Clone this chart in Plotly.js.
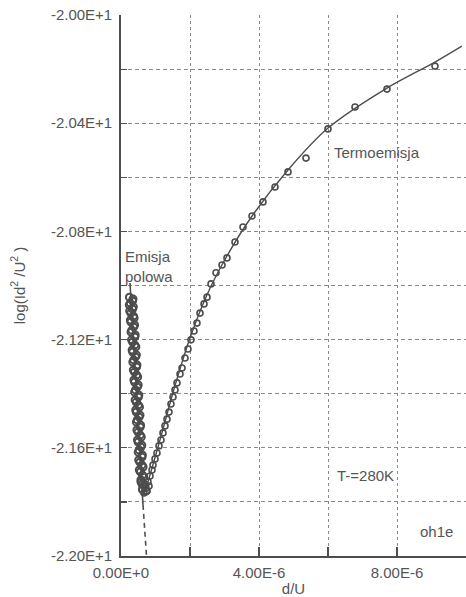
<!DOCTYPE html>
<html>
<head>
<meta charset="utf-8">
<script src="https://cdn.plot.ly/plotly-3.0.1.min.js"></script>
<style>
  html, body { margin: 0; padding: 0; background: #ffffff; }
  #chart { width: 466px; height: 597px; }
</style>
</head>
<body>
<div id="chart"></div>
<script>
// d/U values are listed in units of 1E-6 and scaled once below.
const MICRO = 1e-6;

// Field-emission branch (dense measured points)
const fieldX = [0.243, 0.336, 0.241, 0.336, 0.284, 0.380, 0.287, 0.368, 0.290, 0.400,
                0.336, 0.432, 0.339, 0.420, 0.342, 0.452, 0.388, 0.484, 0.391, 0.472,
                0.394, 0.504, 0.441, 0.536, 0.443, 0.525, 0.446, 0.557, 0.493, 0.588,
                0.496, 0.577, 0.499, 0.609, 0.545, 0.641, 0.562, 0.658, 0.580, 0.675,
                0.623, 0.725,
                0.348, 0.267, 0.359, 0.252, 0.362, 0.270, 0.394, 0.316, 0.412, 0.304,
                0.400, 0.322, 0.446, 0.368, 0.464, 0.357, 0.452, 0.374, 0.499, 0.420,
                0.516, 0.409, 0.504, 0.426, 0.551, 0.472, 0.568, 0.461, 0.557, 0.478,
                0.603, 0.525, 0.620, 0.513, 0.609, 0.530, 0.626, 0.577, 0.609];
const fieldY = [-21.043, -21.057, -21.072, -21.087, -21.102, -21.120, -21.135, -21.153, -21.172, -21.190,
                -21.209, -21.227, -21.246, -21.264, -21.283, -21.301, -21.320, -21.338, -21.357, -21.375,
                -21.394, -21.412, -21.431, -21.449, -21.468, -21.486, -21.505, -21.523, -21.542, -21.560,
                -21.579, -21.597, -21.616, -21.634, -21.653, -21.671, -21.689, -21.708, -21.726, -21.741,
                -21.752, -21.760,
                -21.050, -21.065, -21.079, -21.094, -21.113, -21.128, -21.146, -21.165, -21.183, -21.201,
                -21.220, -21.238, -21.257, -21.275, -21.294, -21.312, -21.331, -21.349, -21.368, -21.386,
                -21.405, -21.423, -21.442, -21.460, -21.479, -21.497, -21.516, -21.534, -21.553, -21.571,
                -21.590, -21.608, -21.627, -21.645, -21.664, -21.682, -21.701, -21.719, -21.734];

// Thermionic-emission branch (measured points)
const thermoX = [0.609, 0.667, 0.754, 0.812, 0.696,
                 0.725, 0.783, 0.841, 0.899, 0.928, 0.986, 1.043, 1.101, 1.159, 1.217,
                 1.275, 1.333, 1.391, 1.449, 1.507, 1.565, 1.623, 1.710, 1.768, 1.855,
                 1.942, 2.029, 2.116, 2.203, 2.290, 2.406, 2.493, 2.609, 2.754, 2.928,
                 3.072, 3.304, 3.536, 3.797, 4.116, 4.464, 4.841, 5.362, 6.000, 6.783,
                 7.710, 9.101];
const thermoY = [-21.756, -21.767, -21.760, -21.741, -21.734,
                 -21.749, -21.726, -21.704, -21.682, -21.664, -21.641, -21.619, -21.593, -21.571, -21.545,
                 -21.519, -21.494, -21.468, -21.438, -21.412, -21.386, -21.360, -21.327, -21.305, -21.268,
                 -21.235, -21.201, -21.168, -21.139, -21.102, -21.068, -21.043, -20.994, -20.953, -20.924,
                 -20.898, -20.839, -20.784, -20.743, -20.691, -20.636, -20.580, -20.529, -20.421, -20.340,
                 -20.274, -20.189];

// Fitted curves
const fieldFitX = [0.261, 0.638];
const fieldFitY = [-20.991, -21.811];
const fieldExtX = [0.638, 0.739];
const fieldExtY = [-21.811, -22.000];
const thermoFitX = [0.64, 0.75, 1.13, 1.57, 2.00, 2.49, 3.07, 3.80, 4.84, 6.00, 7.71, 9.10, 9.88];
const thermoFitY = [-21.774, -21.738, -21.571, -21.368, -21.194, -21.035, -20.891, -20.743,
                    -20.573, -20.418, -20.270, -20.174, -20.115];

// Axis ticks
const xTickVals = [0, 2, 4, 6, 8, 10];
const xTickText = ['0.00E+0', '', '4.00E-6', '', '8.00E-6', ''];
const yTickVals = [-22.0, -21.8, -21.6, -21.4, -21.2, -21.0, -20.8, -20.6, -20.4, -20.2, -20.0];
const yTickText = ['-2.20E+1', '', '-2.16E+1', '', '-2.12E+1', '', '-2.08E+1', '', '-2.04E+1', '', '-2.00E+1'];

const ink = '#4d4d4d';
const textInk = '#555555';
const gridInk = '#8a8a8a';
const scale = a => a.map(v => v * MICRO);

const fieldMarker = {
  symbol: 'circle-open', size: 7, color: ink, line: { width: 2, color: ink }
};
const thermoMarker = {
  symbol: 'circle-open', size: 6, color: ink, line: { width: 1.6, color: ink }
};

const traces = [
  { x: scale(fieldX), y: fieldY, mode: 'markers', type: 'scatter', marker: fieldMarker, hoverinfo: 'skip' },
  { x: scale(thermoX), y: thermoY, mode: 'markers', type: 'scatter', marker: thermoMarker, hoverinfo: 'skip' },
  { x: scale(fieldFitX), y: fieldFitY, mode: 'lines', type: 'scatter',
    line: { color: ink, width: 1.6 }, hoverinfo: 'skip' },
  { x: scale(fieldExtX), y: fieldExtY, mode: 'lines', type: 'scatter',
    line: { color: ink, width: 1.6, dash: '5px,4px' }, hoverinfo: 'skip' },
  { x: scale(thermoFitX), y: thermoFitY, mode: 'lines', type: 'scatter',
    line: { color: ink, width: 1.4, shape: 'spline', smoothing: 0.8 }, hoverinfo: 'skip' }
];

const font = { family: '"Liberation Sans", Arial, sans-serif', size: 15, color: textInk };

const layout = {
  width: 466, height: 597,
  margin: { l: 121, r: 0, t: 15, b: 41 },
  paper_bgcolor: '#ffffff', plot_bgcolor: '#ffffff',
  showlegend: false,
  font: font,
  xaxis: {
    range: [0, 10 * MICRO],
    tickvals: scale(xTickVals), ticktext: xTickText,
    ticks: 'inside', ticklen: 9, tickwidth: 1.2, tickcolor: ink,
    showline: true, linecolor: ink, linewidth: 1.8,
    showgrid: true, gridcolor: gridInk, gridwidth: 1, griddash: 'dot',
    zeroline: false,
    tickfont: font,
    ticklabelstandoff: 2,
    title: { text: 'd/U', font: font, standoff: 0 }
  },
  yaxis: {
    range: [-22, -20],
    tickvals: yTickVals, ticktext: yTickText,
    ticks: 'inside', ticklen: 6, tickwidth: 1.2, tickcolor: ink,
    showline: true, linecolor: ink, linewidth: 1.8,
    showgrid: true, gridcolor: gridInk, gridwidth: 1, griddash: '4px,3px',
    zeroline: false,
    tickfont: font,
    ticklabelstandoff: 4,
    title: { text: 'log(Id<sup>2</sup> /U<sup>2</sup> )', font: font, standoff: 22 }
  },
  annotations: [
    { x: 0.06 * MICRO, y: -20.928, xref: 'x', yref: 'y', text: 'Emisja<br>polowa',
      showarrow: false, xanchor: 'left', yanchor: 'middle', align: 'left', font: font },
    { x: 6.12 * MICRO, y: -20.510, xref: 'x', yref: 'y', text: 'Termoemisja',
      showarrow: false, xanchor: 'left', yanchor: 'middle', font: font },
    { x: 6.20 * MICRO, y: -21.701, xref: 'x', yref: 'y', text: 'T-=280K',
      showarrow: false, xanchor: 'left', yanchor: 'middle', font: font },
    { x: 8.61 * MICRO, y: -21.908, xref: 'x', yref: 'y', text: 'oh1e',
      showarrow: false, xanchor: 'left', yanchor: 'middle', font: font }
  ]
};

Plotly.newPlot('chart', traces, layout, { staticPlot: true, displayModeBar: false });
</script>
</body>
</html>
